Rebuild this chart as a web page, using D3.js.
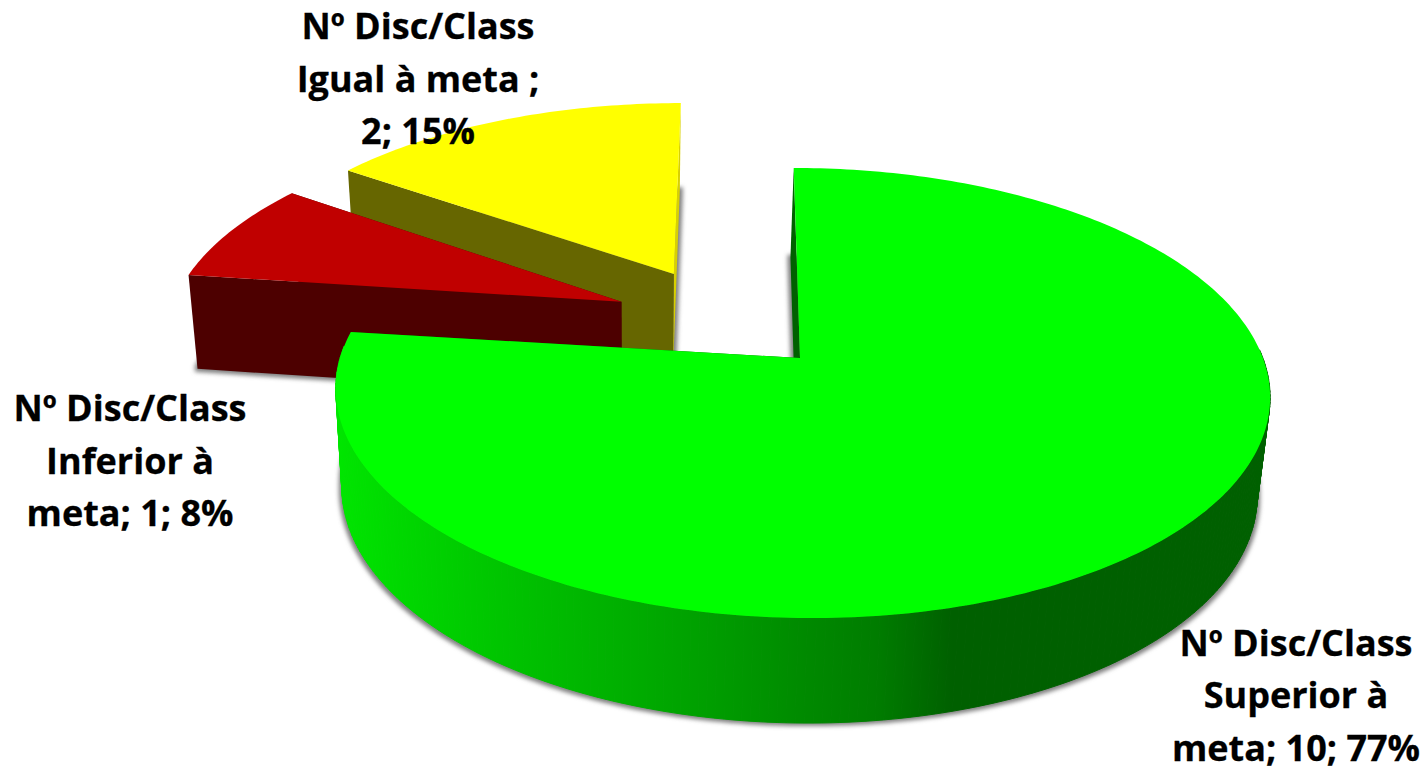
<!DOCTYPE html>
<html>
<head>
<meta charset="utf-8">
<script src="https://d3js.org/d3.v7.min.js"></script>
<style>
html,body{margin:0;padding:0;background:#fff;overflow:hidden}
svg{display:block}
text{font-family:"Open Sans",Lato,sans-serif;font-weight:700;fill:#000;stroke:#000;stroke-width:0.3px}
</style>
</head>
<body>
<svg id="chart" width="1428" height="771"></svg>
<script>
// ---- data ----
const categories = ["Nº Disc/Class Superior à meta", "Nº Disc/Class Inferior à meta", "Nº Disc/Class Igual à meta "];
const values = [10, 1, 2];
const percents = ["77%", "8%", "15%"];
const labelLines = [
  ["Nº Disc/Class", "Superior à", "meta; 10; 77%"],
  ["Nº Disc/Class", "Inferior à", "meta; 1; 8%"],
  ["Nº Disc/Class", "Igual à meta ;", "2; 15%"]
];
const topColors = ["#00ff00", "#c00000", "#ffff00"];
const startWallColors = ["#006000", "#4d0000", "#666600"];
const endWallColors = ["#006000", "#4d0000", "#d8d000"];
const gradientStops = [
  [0, "#00e600"], [0.07, "#00d800"], [0.18, "#00c400"], [0.3, "#00b000"],
  [0.4, "#009e00"], [0.5, "#008a00"], [0.58, "#007c00"], [0.66, "#006000"], [1, "#006000"]
];

// ---- layout ----
const labelX = [1296, 130, 418];
const labelY = [655.5, 421, 39];
const lineStep = 52.5;
const fontSize = 36;
const explode = 0.255;
const apexX = 800, apexY = 358;
const apexNudgeX = [0, 4, 2], apexNudgeY = [0, 3, 2];
const arcNudgeX = [1.5, 0, 0];
const persp = 0.1556, yScale = -163.9, xScale = 461.4, skew = -9;
const depthA = 96.8, depthK = 0.078;
const vanishX = 631, vanishS = 0.0203;

// perspective projection of the pie's disk
function project(x, y, lower) {
  const w = 1 + persp * y;
  let sx = apexX + (xScale * x + skew * y) / w;
  let sy = (apexY + yScale * y) / w;
  if (lower) {
    sy += depthA / (1 + depthK * y);
    sx += vanishS * (vanishX - sx);
  }
  return [sx, sy];
}

const arcs = d3.pie().sort(null).startAngle(0).endAngle(2 * Math.PI)(values);
const mid0 = (arcs[0].startAngle + arcs[0].endAngle) / 2;
const line = d3.line();
const svg = d3.select("#chart");
const defs = svg.append("defs");

const grad = defs.append("linearGradient").attr("id", "greenWall")
  .attr("gradientUnits", "userSpaceOnUse")
  .attr("x1", 336).attr("x2", 1270).attr("y1", 0).attr("y2", 0);
grad.selectAll("stop").data(gradientStops).join("stop")
  .attr("offset", d => d[0]).attr("stop-color", d => d[1]);

const f = defs.append("filter").attr("id", "shadow")
  .attr("x", "-10%").attr("y", "-10%").attr("width", "120%").attr("height", "120%");
f.append("feMorphology").attr("operator", "dilate").attr("radius", 3);
f.append("feGaussianBlur").attr("stdDeviation", 2);

function slicePoints(d, i, lower) {
  const mid = (d.startAngle + d.endAngle) / 2;
  const ox = i === 0 ? 0 : explode * (Math.sin(mid) - Math.sin(mid0));
  const oy = i === 0 ? 0 : explode * (Math.cos(mid) - Math.cos(mid0));
  const n = Math.max(8, Math.ceil((d.endAngle - d.startAngle) * 60));
  const angles = d3.range(n + 1).map(k => d.startAngle + (d.endAngle - d.startAngle) * k / n);
  const arc = angles.map(a => {
    const p = project(ox + Math.sin(a), oy + Math.cos(a), lower);
    return [p[0] + arcNudgeX[i], p[1]];
  });
  const c = project(ox, oy, lower);
  return { apex: [c[0] + apexNudgeX[i], c[1] + apexNudgeY[i]], arc, angles };
}

// draw order: back slices first
[2, 1, 0].forEach(i => {
  const d = arcs[i];
  const g = svg.append("g").attr("class", "slice");
  const top = slicePoints(d, i, false);
  const low = slicePoints(d, i, true);
  const first = 0, last = top.arc.length - 1;

  g.append("path")
    .attr("d", line([low.apex, ...low.arc]) + "Z")
    .attr("fill", "#808080").attr("filter", "url(#shadow)");
  g.append("path")
    .attr("d", line([top.apex, top.arc[last], low.arc[last], low.apex]) + "Z")
    .attr("fill", endWallColors[i]);
  g.append("path")
    .attr("d", line([top.apex, top.arc[first], low.arc[first], low.apex]) + "Z")
    .attr("fill", startWallColors[i]);
  if (i === 0) {
    // curved outer wall, front-facing steps only; the exploded slices' outer walls face away
    const front = d3.range(last).filter(k => Math.cos(top.angles[k]) < 0.05);
    g.selectAll("path.wall").data(front).join("path")
      .attr("class", "wall")
      .attr("d", k => line([top.arc[k], top.arc[k + 1], low.arc[k + 1], low.arc[k]]) + "Z")
      .attr("fill", "url(#greenWall)")
      .attr("stroke", "url(#greenWall)").attr("stroke-width", 1);
  }
  g.append("path")
    .attr("d", line([top.apex, ...top.arc]) + "Z")
    .attr("fill", topColors[i]);
});

labelLines.forEach((lines, i) => {
  const t = svg.append("text").attr("font-size", fontSize).attr("text-anchor", "middle");
  lines.forEach((s, k) => {
    t.append("tspan").attr("x", labelX[i]).attr("y", labelY[i] + k * lineStep).text(s);
  });
});
</script>
</body>
</html>
